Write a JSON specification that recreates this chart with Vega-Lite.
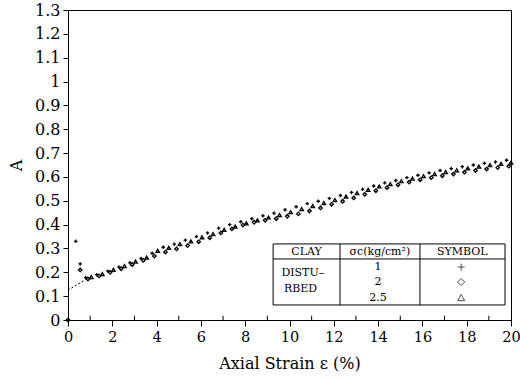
{
  "$schema": "https://vega.github.io/schema/vega-lite/v6.json",
  "width": 443,
  "height": 310,
  "autosize": "none",
  "padding": {"left": 68, "top": 10, "right": 9, "bottom": 59},
  "background": "white",
  "config": {
    "view": {"stroke": "black", "strokeWidth": 1},
    "font": "DejaVu Serif",
    "axis": {
      "labelFont": "DejaVu Serif", "titleFont": "DejaVu Serif",
      "labelFontSize": 16, "titleFontSize": 16, "labelColor": "black", "titleColor": "black",
      "titleFontWeight": "normal", "domainColor": "black", "tickColor": "black", "grid": false,
      "labelOverlap": false
    }
  },
  "datasets": {
    "pts": [
      {"x": 0.8, "y": 0.178, "s": "1"}, {"x": 1.3, "y": 0.19, "s": "1"}, {"x": 1.8, "y": 0.205, "s": "1"},
      {"x": 2.3, "y": 0.222, "s": "1"}, {"x": 2.8, "y": 0.24, "s": "1"}, {"x": 3.3, "y": 0.258, "s": "1"},
      {"x": 3.8, "y": 0.28, "s": "1"}, {"x": 4.3, "y": 0.305, "s": "1"}, {"x": 4.8, "y": 0.318, "s": "1"},
      {"x": 5.3, "y": 0.335, "s": "1"}, {"x": 5.8, "y": 0.35, "s": "1"}, {"x": 6.3, "y": 0.365, "s": "1"},
      {"x": 6.8, "y": 0.385, "s": "1"}, {"x": 7.3, "y": 0.4, "s": "1"}, {"x": 7.8, "y": 0.412, "s": "1"},
      {"x": 8.3, "y": 0.425, "s": "1"}, {"x": 8.8, "y": 0.437, "s": "1"}, {"x": 9.3, "y": 0.448, "s": "1"},
      {"x": 9.8, "y": 0.462, "s": "1"}, {"x": 10.3, "y": 0.475, "s": "1"}, {"x": 10.8, "y": 0.488, "s": "1"},
      {"x": 11.3, "y": 0.498, "s": "1"}, {"x": 11.8, "y": 0.51, "s": "1"}, {"x": 12.3, "y": 0.522, "s": "1"},
      {"x": 12.8, "y": 0.535, "s": "1"}, {"x": 13.3, "y": 0.548, "s": "1"}, {"x": 13.8, "y": 0.562, "s": "1"},
      {"x": 14.3, "y": 0.575, "s": "1"}, {"x": 14.8, "y": 0.585, "s": "1"}, {"x": 15.3, "y": 0.597, "s": "1"},
      {"x": 15.8, "y": 0.607, "s": "1"}, {"x": 16.3, "y": 0.617, "s": "1"}, {"x": 16.8, "y": 0.627, "s": "1"},
      {"x": 17.3, "y": 0.635, "s": "1"}, {"x": 17.8, "y": 0.643, "s": "1"}, {"x": 18.3, "y": 0.65, "s": "1"},
      {"x": 18.8, "y": 0.657, "s": "1"}, {"x": 19.3, "y": 0.663, "s": "1"}, {"x": 19.8, "y": 0.67, "s": "1"},
      {"x": 0.35, "y": 0.33, "s": "1"}, {"x": 0.55, "y": 0.235, "s": "1"},
      {"x": 0.9, "y": 0.172, "s": "2"}, {"x": 1.4, "y": 0.185, "s": "2"}, {"x": 1.9, "y": 0.2, "s": "2"},
      {"x": 2.4, "y": 0.215, "s": "2"}, {"x": 2.9, "y": 0.232, "s": "2"}, {"x": 3.4, "y": 0.25, "s": "2"},
      {"x": 3.9, "y": 0.268, "s": "2"}, {"x": 4.4, "y": 0.285, "s": "2"}, {"x": 4.9, "y": 0.298, "s": "2"},
      {"x": 5.4, "y": 0.312, "s": "2"}, {"x": 5.9, "y": 0.328, "s": "2"}, {"x": 6.4, "y": 0.345, "s": "2"},
      {"x": 6.9, "y": 0.365, "s": "2"}, {"x": 7.4, "y": 0.382, "s": "2"}, {"x": 7.9, "y": 0.398, "s": "2"},
      {"x": 8.4, "y": 0.41, "s": "2"}, {"x": 8.9, "y": 0.418, "s": "2"}, {"x": 9.4, "y": 0.425, "s": "2"},
      {"x": 9.9, "y": 0.435, "s": "2"}, {"x": 10.4, "y": 0.445, "s": "2"}, {"x": 10.9, "y": 0.457, "s": "2"},
      {"x": 11.4, "y": 0.47, "s": "2"}, {"x": 11.9, "y": 0.485, "s": "2"}, {"x": 12.4, "y": 0.498, "s": "2"},
      {"x": 12.9, "y": 0.512, "s": "2"}, {"x": 13.4, "y": 0.527, "s": "2"}, {"x": 13.9, "y": 0.542, "s": "2"},
      {"x": 14.4, "y": 0.555, "s": "2"}, {"x": 14.9, "y": 0.567, "s": "2"}, {"x": 15.4, "y": 0.578, "s": "2"},
      {"x": 15.9, "y": 0.588, "s": "2"}, {"x": 16.4, "y": 0.597, "s": "2"}, {"x": 16.9, "y": 0.605, "s": "2"},
      {"x": 17.4, "y": 0.612, "s": "2"}, {"x": 17.9, "y": 0.62, "s": "2"}, {"x": 18.4, "y": 0.627, "s": "2"},
      {"x": 18.9, "y": 0.633, "s": "2"}, {"x": 19.4, "y": 0.639, "s": "2"}, {"x": 19.9, "y": 0.645, "s": "2"},
      {"x": 0.55, "y": 0.21, "s": "2"}, {"x": 0.0, "y": 0.0, "s": "2"},
      {"x": 1.05, "y": 0.18, "s": "2.5"}, {"x": 1.55, "y": 0.193, "s": "2.5"}, {"x": 2.05, "y": 0.21, "s": "2.5"},
      {"x": 2.55, "y": 0.226, "s": "2.5"}, {"x": 3.05, "y": 0.245, "s": "2.5"}, {"x": 3.55, "y": 0.262, "s": "2.5"},
      {"x": 4.05, "y": 0.29, "s": "2.5"}, {"x": 4.55, "y": 0.303, "s": "2.5"}, {"x": 5.05, "y": 0.318, "s": "2.5"},
      {"x": 5.55, "y": 0.33, "s": "2.5"}, {"x": 6.05, "y": 0.347, "s": "2.5"}, {"x": 6.55, "y": 0.36, "s": "2.5"},
      {"x": 7.05, "y": 0.378, "s": "2.5"}, {"x": 7.55, "y": 0.392, "s": "2.5"}, {"x": 8.05, "y": 0.405, "s": "2.5"},
      {"x": 8.55, "y": 0.418, "s": "2.5"}, {"x": 9.05, "y": 0.43, "s": "2.5"}, {"x": 9.55, "y": 0.44, "s": "2.5"},
      {"x": 10.05, "y": 0.452, "s": "2.5"}, {"x": 10.55, "y": 0.465, "s": "2.5"}, {"x": 11.05, "y": 0.478, "s": "2.5"},
      {"x": 11.55, "y": 0.49, "s": "2.5"}, {"x": 12.05, "y": 0.503, "s": "2.5"}, {"x": 12.55, "y": 0.518, "s": "2.5"},
      {"x": 13.05, "y": 0.532, "s": "2.5"}, {"x": 13.55, "y": 0.546, "s": "2.5"}, {"x": 14.05, "y": 0.56, "s": "2.5"},
      {"x": 14.55, "y": 0.57, "s": "2.5"}, {"x": 15.05, "y": 0.582, "s": "2.5"}, {"x": 15.55, "y": 0.593, "s": "2.5"},
      {"x": 16.05, "y": 0.603, "s": "2.5"}, {"x": 16.55, "y": 0.612, "s": "2.5"}, {"x": 17.05, "y": 0.62, "s": "2.5"},
      {"x": 17.55, "y": 0.628, "s": "2.5"}, {"x": 18.05, "y": 0.636, "s": "2.5"}, {"x": 18.55, "y": 0.643, "s": "2.5"},
      {"x": 19.05, "y": 0.65, "s": "2.5"}, {"x": 19.55, "y": 0.655, "s": "2.5"}, {"x": 20.0, "y": 0.66, "s": "2.5"}
    ],
    "fit": [{"x": 0, "y": 0.125}, {"x": 0.8, "y": 0.17}],
    "minor": [{"x": 1}, {"x": 3}, {"x": 5}, {"x": 7}, {"x": 9}, {"x": 11}, {"x": 13}, {"x": 15}, {"x": 17}, {"x": 19}],
    "box": [{"x": 9.26, "x2": 19.73, "y": 0.063, "y2": 0.319}],
    "lines": [
      {"x": 9.26, "x2": 19.73, "y": 0.256, "y2": 0.256},
      {"x": 12.28, "x2": 12.28, "y": 0.063, "y2": 0.319},
      {"x": 15.89, "x2": 15.89, "y": 0.063, "y2": 0.319}
    ],
    "labels": [
      {"x": 10.77, "y": 0.287, "t": "CLAY"},
      {"x": 14.08, "y": 0.287, "t": "σc(kg/cm²)"},
      {"x": 17.8, "y": 0.287, "t": "SYMBOL"},
      {"x": 10.6, "y": 0.197, "t": "DISTU–"},
      {"x": 10.5, "y": 0.128, "t": "RBED"},
      {"x": 14.0, "y": 0.222, "t": "1"},
      {"x": 14.0, "y": 0.159, "t": "2"},
      {"x": 14.0, "y": 0.094, "t": "2.5"}
    ],
    "syms": [
      {"x": 17.75, "y": 0.222, "s": "1"},
      {"x": 17.75, "y": 0.159, "s": "2"},
      {"x": 17.75, "y": 0.094, "s": "2.5"}
    ]
  },
  "layer": [
    {
      "data": {"name": "pts"},
      "mark": {"type": "point", "filled": false, "color": "black", "size": 12, "strokeWidth": 1.3, "opacity": 1},
      "encoding": {
        "x": {
          "field": "x", "type": "quantitative",
          "scale": {"domain": [0, 20], "nice": false, "zero": false},
          "axis": {"tickCount": 40, "values": [0, 2, 4, 6, 8, 10, 12, 14, 16, 18, 20], "format": "d", "tickSize": 6, "labelPadding": 4,
                   "labelFontSize": 14.5,
                   "title": "Axial Strain ε (%)", "titlePadding": 12, "labelFlush": false, "labelOverlap": false}
        },
        "y": {
          "field": "y", "type": "quantitative",
          "scale": {"domain": [0, 1.3], "nice": false, "zero": false},
          "axis": {"tickCount": 40, "values": [0, 0.1, 0.2, 0.3, 0.4, 0.5, 0.6, 0.7, 0.8, 0.9, 1, 1.1, 1.2, 1.3], "format": ".1~f",
                   "tickSize": 5, "labelPadding": 3, "title": "A", "titlePadding": 10, "labelFlush": false,
                   "labelOverlap": false, "labelBound": false}
        },
        "shape": {
          "field": "s", "type": "nominal",
          "scale": {"domain": ["1", "2", "2.5"], "range": ["M-1,0L1,0M0,-1L0,1", "diamond", "triangle-up"]},
          "legend": null
        }
      }
    },
    {
      "data": {"name": "minor"},
      "mark": {"type": "rule", "color": "black", "strokeWidth": 1},
      "encoding": {
        "x": {"field": "x", "type": "quantitative"},
        "y": {"datum": 0, "type": "quantitative"},
        "y2": {"datum": 0.018}
      }
    },
    {
      "data": {"name": "fit"},
      "mark": {"type": "line", "color": "black", "strokeWidth": 1, "strokeDash": [2, 2]},
      "encoding": {
        "x": {"field": "x", "type": "quantitative"},
        "y": {"field": "y", "type": "quantitative"}
      }
    },
    {
      "data": {"name": "box"},
      "mark": {"type": "rect", "fill": "white", "stroke": "black", "strokeWidth": 1},
      "encoding": {
        "x": {"field": "x", "type": "quantitative"},
        "x2": {"field": "x2"},
        "y": {"field": "y", "type": "quantitative"},
        "y2": {"field": "y2"}
      }
    },
    {
      "data": {"name": "lines"},
      "mark": {"type": "rule", "color": "black", "strokeWidth": 1},
      "encoding": {
        "x": {"field": "x", "type": "quantitative"},
        "x2": {"field": "x2"},
        "y": {"field": "y", "type": "quantitative"},
        "y2": {"field": "y2"}
      }
    },
    {
      "data": {"name": "labels"},
      "mark": {"type": "text", "font": "DejaVu Serif", "fontSize": 11, "color": "black", "baseline": "middle", "align": "center"},
      "encoding": {
        "x": {"field": "x", "type": "quantitative"},
        "y": {"field": "y", "type": "quantitative"},
        "text": {"field": "t"}
      }
    },
    {
      "data": {"name": "syms"},
      "mark": {"type": "point", "filled": false, "color": "black", "size": 50, "strokeWidth": 1},
      "encoding": {
        "x": {"field": "x", "type": "quantitative"},
        "y": {"field": "y", "type": "quantitative"},
        "shape": {"field": "s", "type": "nominal", "legend": null}
      }
    }
  ]
}
